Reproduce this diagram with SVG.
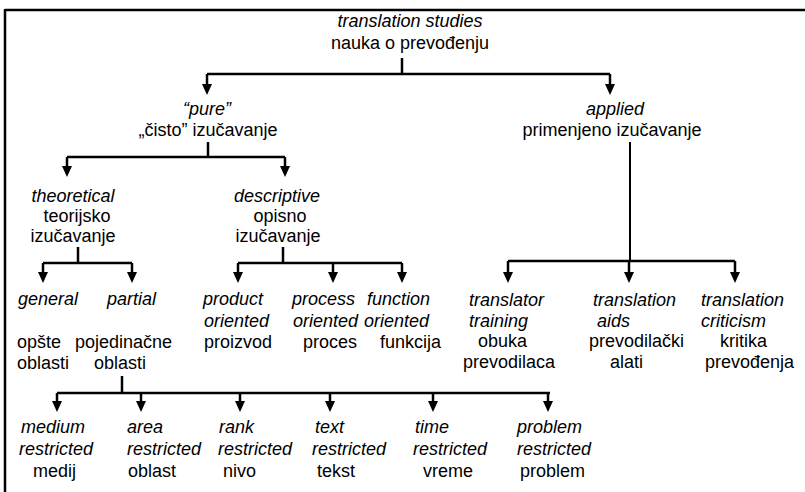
<svg xmlns="http://www.w3.org/2000/svg" xmlns:xlink="http://www.w3.org/1999/xlink" width="805" height="492" viewBox="0 0 805 492">
<style>
text{font-family:"Liberation Sans",Arial,sans-serif;font-size:18px;fill:#000}
.i{font-style:italic}
.m{text-anchor:middle}
.ln{stroke:#000;stroke-width:2.5;fill:none}
.thin{stroke:#000;stroke-width:2;fill:none}
</style>
<defs>
<path id="ah" d="M-5,-11 L5,-11 L0,0 Z" fill="#000"/>
</defs>
<rect width="805" height="492" fill="#fff"/>
<g id="frame">
<line class="ln" x1="5" y1="10" x2="805" y2="10"/>
<line class="ln" x1="5" y1="9" x2="5" y2="492"/>
</g>
<g id="connectors">
<!-- root -->
<line class="ln" x1="402" y1="58" x2="402" y2="74"/>
<line class="ln" x1="207" y1="74" x2="610" y2="74"/>
<line class="ln" x1="207" y1="74" x2="207" y2="85"/>
<line class="ln" x1="610" y1="74" x2="610" y2="85"/>
<use xlink:href="#ah" x="207" y="95"/>
<use xlink:href="#ah" x="610" y="95"/>
<!-- pure -->
<line class="ln" x1="208" y1="142" x2="208" y2="157"/>
<line class="ln" x1="67" y1="157" x2="285" y2="157"/>
<line class="ln" x1="67" y1="157" x2="67" y2="167"/>
<line class="ln" x1="285" y1="157" x2="285" y2="167"/>
<use xlink:href="#ah" x="67" y="177"/>
<use xlink:href="#ah" x="285" y="177"/>
<!-- applied -->
<line class="thin" x1="630" y1="142" x2="630" y2="261"/>
<line class="ln" x1="508" y1="261" x2="735" y2="261"/>
<line class="ln" x1="508" y1="261" x2="508" y2="273"/>
<line class="ln" x1="629" y1="261" x2="629" y2="273"/>
<line class="ln" x1="735" y1="261" x2="735" y2="273"/>
<use xlink:href="#ah" x="508" y="283"/>
<use xlink:href="#ah" x="629" y="283"/>
<use xlink:href="#ah" x="735" y="283"/>
<!-- theoretical -->
<line class="ln" x1="78" y1="247" x2="78" y2="263"/>
<line class="ln" x1="43" y1="263" x2="132" y2="263"/>
<line class="ln" x1="43" y1="263" x2="43" y2="273"/>
<line class="ln" x1="132" y1="263" x2="132" y2="273"/>
<use xlink:href="#ah" x="43" y="283"/>
<use xlink:href="#ah" x="132" y="283"/>
<!-- descriptive -->
<line class="ln" x1="283" y1="247" x2="283" y2="263"/>
<line class="ln" x1="238" y1="263" x2="402" y2="263"/>
<line class="ln" x1="238" y1="263" x2="238" y2="273"/>
<line class="ln" x1="333" y1="263" x2="333" y2="273"/>
<line class="ln" x1="402" y1="263" x2="402" y2="273"/>
<use xlink:href="#ah" x="238" y="283"/>
<use xlink:href="#ah" x="333" y="283"/>
<use xlink:href="#ah" x="402" y="283"/>
<!-- partial -->
<line class="ln" x1="122" y1="376" x2="122" y2="393"/>
<line class="ln" x1="57" y1="393" x2="550" y2="393"/>
<line class="ln" x1="57" y1="393" x2="57" y2="402"/>
<line class="ln" x1="141" y1="393" x2="141" y2="402"/>
<line class="ln" x1="240" y1="393" x2="240" y2="402"/>
<line class="ln" x1="330" y1="393" x2="330" y2="402"/>
<line class="ln" x1="433" y1="393" x2="433" y2="402"/>
<line class="ln" x1="548" y1="393" x2="548" y2="402"/>
<use xlink:href="#ah" x="57" y="412"/>
<use xlink:href="#ah" x="141" y="412"/>
<use xlink:href="#ah" x="240" y="412"/>
<use xlink:href="#ah" x="330" y="412"/>
<use xlink:href="#ah" x="433" y="412"/>
<use xlink:href="#ah" x="548" y="412"/>
</g>
<g id="root"><text class="i m" x="410" y="27">translation studies</text><text class="m" x="410" y="49">nauka o prevođenju</text></g>
<g id="pure"><text class="i m" x="207" y="115">“pure”</text><text class="m" x="208" y="136">„čisto” izučavanje</text></g>
<g id="applied"><text class="i m" x="615" y="115">applied</text><text class="m" x="612" y="136">primenjeno izučavanje</text></g>
<g id="theoretical"><text class="i m" x="73" y="202">theoretical</text><text class="m" x="77" y="222">teorijsko</text><text class="m" x="73" y="242">izučavanje</text></g>
<g id="descriptive"><text class="i m" x="277" y="202">descriptive</text><text class="m" x="280" y="222">opisno</text><text class="m" x="278" y="242">izučavanje</text></g>
<g id="general"><text class="i" x="18" y="305">general</text><text x="17" y="348">opšte</text><text x="17" y="369">oblasti</text></g>
<g id="partial"><text class="i" x="107" y="305">partial</text><text x="75" y="348">pojedinačne</text><text x="94" y="369">oblasti</text></g>
<g id="product"><text class="i" x="203" y="305">product</text><text class="i" x="204" y="327">oriented</text><text x="204" y="348">proizvod</text></g>
<g id="process"><text class="i" x="292" y="305">process</text><text class="i" x="293" y="327">oriented</text><text x="303" y="348">proces</text></g>
<g id="function"><text class="i" x="367" y="305">function</text><text class="i" x="364" y="327">oriented</text><text x="380" y="348">funkcija</text></g>
<g id="training"><text class="i" x="469" y="306">translator</text><text class="i" x="469" y="327">training</text><text x="478" y="347">obuka</text><text x="463" y="368">prevodilaca</text></g>
<g id="aids"><text class="i" x="593" y="306">translation</text><text class="i" x="597" y="327">aids</text><text x="589" y="347">prevodilački</text><text x="610" y="368">alati</text></g>
<g id="criticism"><text class="i" x="701" y="306">translation</text><text class="i" x="701" y="327">criticism</text><text x="720" y="347">kritika</text><text x="705" y="368">prevođenja</text></g>
<g id="medium"><text class="i" x="21" y="433">medium</text><text class="i" x="19" y="455">restricted</text><text x="33" y="477">medij</text></g>
<g id="area"><text class="i" x="127" y="433">area</text><text class="i" x="127" y="455">restricted</text><text x="128" y="477">oblast</text></g>
<g id="rank"><text class="i" x="219" y="433">rank</text><text class="i" x="218" y="455">restricted</text><text x="223" y="477">nivo</text></g>
<g id="text"><text class="i" x="315" y="433">text</text><text class="i" x="312" y="455">restricted</text><text x="317" y="477">tekst</text></g>
<g id="time"><text class="i" x="415" y="433">time</text><text class="i" x="413" y="455">restricted</text><text x="423" y="477">vreme</text></g>
<g id="problem"><text class="i" x="517" y="433">problem</text><text class="i" x="517" y="455">restricted</text><text x="520" y="477">problem</text></g>
</svg>
